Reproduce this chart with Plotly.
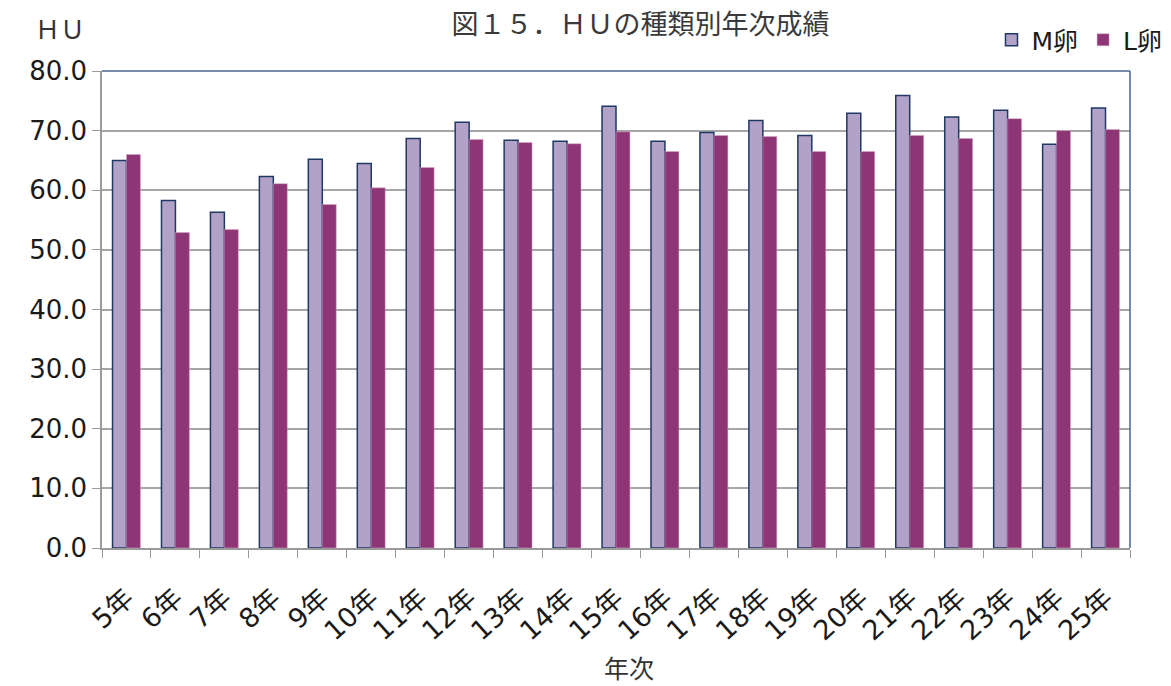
import plotly.graph_objects as go

categories = ["5年", "6年", "7年", "8年", "9年", "10年", "11年", "12年", "13年", "14年", "15年",
              "16年", "17年", "18年", "19年", "20年", "21年", "22年", "23年", "24年", "25年"]
m_egg = [65.0, 58.3, 56.3, 62.3, 65.2, 64.5, 68.7, 71.4, 68.4, 68.2, 74.1,
         68.2, 69.7, 71.7, 69.2, 72.9, 75.9, 72.3, 73.4, 67.7, 73.8]
l_egg = [66.0, 52.9, 53.4, 61.1, 57.6, 60.4, 63.8, 68.5, 68.0, 67.8, 69.8,
         66.5, 69.2, 69.0, 66.5, 66.5, 69.2, 68.7, 72.0, 70.0, 70.2]
y_ticks = [0, 10, 20, 30, 40, 50, 60, 70, 80]

FONT = "DejaVu Sans, Noto Sans CJK JP"

fig = go.Figure()
fig.add_trace(go.Bar(name="M卵", x=categories, y=m_egg,
                     marker=dict(color="#B3A2C7", line=dict(color="#1F3864", width=1.5))))
fig.add_trace(go.Bar(name="L卵", x=categories, y=l_egg,
                     marker=dict(color="#8E3675", line=dict(color="#D9A6C8", width=0.5))))

fig.update_layout(
    width=1171, height=686,
    margin=dict(l=102, r=41, t=71, b=138, autoexpand=False),
    paper_bgcolor="white", plot_bgcolor="white",
    barmode="group", bargap=0.43, bargroupgap=0,
    font=dict(family=FONT, size=24, color="#1a1a1a"),
    title=dict(text="図１５．ＨＵの種類別年次成績", x=0.547, xanchor="center",
               xref="container", yref="container", y=1 - 25 / 686, yanchor="middle",
               font=dict(family="Noto Sans CJK JP", size=27, color="#3a3a3a")),
    legend=dict(orientation="h", xref="container", yref="container",
                x=0.997, xanchor="right", y=1 - 40 / 686, yanchor="middle",
                font=dict(family=FONT, size=25), bgcolor="rgba(0,0,0,0)",
                itemwidth=30, traceorder="normal"),
    xaxis=dict(tickangle=-42, ticks="outside", tickson="boundaries", ticklen=8,
               tickcolor="#9a9a9a", showline=True, linecolor="#9a9a9a", linewidth=1.5,
               ticklabelstandoff=22,
               tickfont=dict(family=FONT, size=27), automargin=False),
    yaxis=dict(range=[0, 80], tickvals=y_ticks, tickformat=".1f", ticks="outside",
               ticklen=8, tickcolor="#9a9a9a", showline=True, linecolor="#9a9a9a",
               linewidth=1.5, showgrid=True, gridcolor="#a6a6a6", gridwidth=1.5,
               tickfont=dict(family=FONT, size=26), automargin=False),
    showlegend=True,
)

# top and right frame of the plot area
fig.add_shape(type="line", xref="paper", yref="paper", x0=0, x1=1, y0=1, y1=1,
              line=dict(color="#4A6490", width=1.5))
fig.add_shape(type="line", xref="paper", yref="paper", x0=1, x1=1, y0=0, y1=1,
              line=dict(color="#4A6490", width=1.5))

fig.add_annotation(text="ＨＵ", xref="paper", yref="paper", x=-0.041, y=1.09,
                   xanchor="center", yanchor="middle",
                   showarrow=False, font=dict(family="Noto Sans CJK JP", size=25, color="#333333"))
fig.add_annotation(text="年次", xref="paper", yref="paper", x=0.513, y=-0.25,
                   xanchor="center", yanchor="middle",
                   showarrow=False, font=dict(family="Noto Sans CJK JP", size=25, color="#333333"))

fig.write_html("out.html", config={"displayModeBar": False},
               post_script="document.body.style.margin='0';")
